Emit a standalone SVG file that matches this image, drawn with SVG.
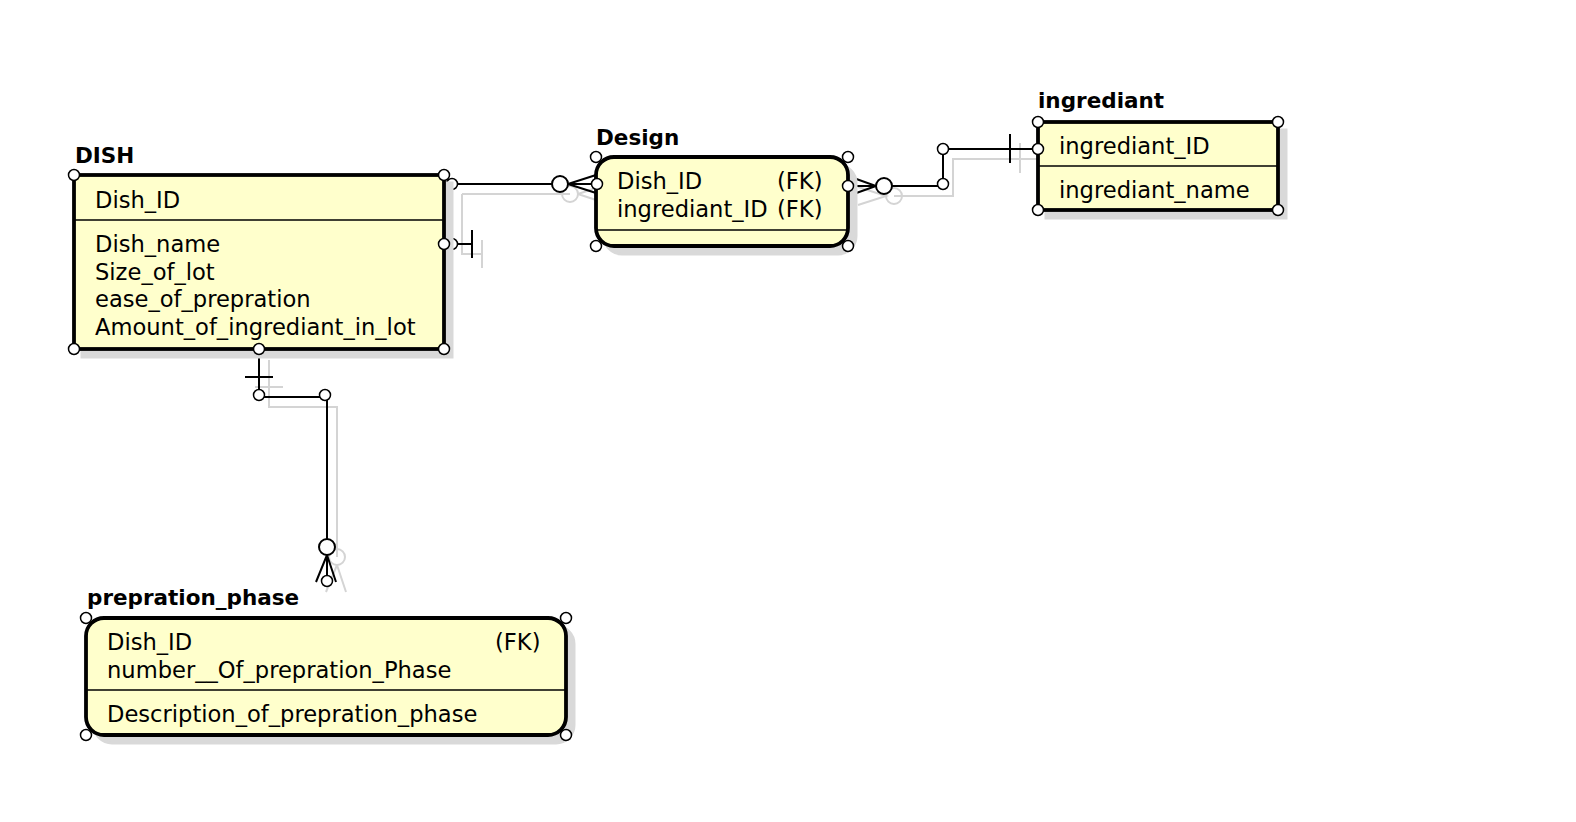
<svg xmlns="http://www.w3.org/2000/svg" width="1576" height="822" viewBox="0 0 1576 822">
<style>
.t{font-family:"DejaVu Sans",sans-serif;font-size:22.6px;fill:#000}
.h{font-family:"DejaVu Sans",sans-serif;font-size:21.5px;font-weight:bold;fill:#000}
.box{fill:#ffffcc;stroke:#000;stroke-width:3.8}
.shd{fill:#d9d9d9;stroke:#d9d9d9;stroke-width:3}
.sep{stroke:#000;stroke-width:1.5}
.hd{fill:#fff;stroke:#000;stroke-width:1.5}
.ln{fill:none;stroke:#000;stroke-width:2}
.gl{fill:none;stroke:#d4d4d4;stroke-width:2}
.big{fill:#fff;stroke:#000;stroke-width:2}
</style>
<rect width="1576" height="822" fill="#fff"/>
<g id="shadows-connectors" transform="translate(10,10)">
<path class="gl" d="M452,184 H560 M452,184 V244 H472 M472,230 V258 M568,184 L595,175 M568,184 L595,193"/>
<circle class="gl" cx="560" cy="184" r="8"/>
<path class="gl" d="M848,177 L876,186 L848,195 M884,186 H943 V149 H1038 M1010,133 V163"/>
<circle class="gl" cx="884" cy="186" r="8"/>
<path class="gl" d="M259,350 V397 H327 V547 M245,377 H273 M327,555 L316,582 M327,555 L336,582"/>
<circle class="gl" cx="327" cy="547" r="8"/>
</g>
<g id="connectors">
<path class="ln" d="M452,184 H552 M452,184 V244 H472 M472,230 V258"/>
<path class="ln" d="M568,184 L596,175 M568,184 L597,184 M568,184 L596,193"/>
<circle class="big" cx="560" cy="184" r="8"/>
<circle class="hd" cx="452" cy="184" r="5.5"/>
<circle class="hd" cx="452" cy="244" r="5.5"/>
<path class="ln" d="M848,176 L876,186 L848,196 M848,186 H876 M892,186 H943 V149 H1038 M1010,134 V163"/>
<circle class="big" cx="884" cy="186" r="8"/>
<circle class="hd" cx="943" cy="184" r="5.5"/>
<circle class="hd" cx="943" cy="149" r="5.5"/>
<path class="ln" d="M259,350 V397 H327 V539 M245,377 H273"/>
<path class="ln" d="M327,555 L316,582 M327,555 L327,582 M327,555 L336,582"/>
<circle class="big" cx="327" cy="547" r="8"/>
<circle class="hd" cx="259" cy="395" r="5.5"/>
<circle class="hd" cx="325" cy="395" r="5.5"/>
<circle class="hd" cx="327" cy="581" r="5.5"/>
</g>
<g id="DISH">
<rect class="shd" x="82" y="183" width="370" height="174"/>
<rect class="box" x="74" y="175" width="370" height="174"/>
<line class="sep" x1="74" y1="220" x2="444" y2="220"/>
<text class="h" x="75" y="163">DISH</text>
<text class="t" x="95" y="208">Dish_ID</text>
<text class="t" x="95" y="252">Dish_name</text>
<text class="t" x="95" y="280">Size_of_lot</text>
<text class="t" x="95" y="307">ease_of_prepration</text>
<text class="t" x="95" y="335">Amount_of_ingrediant_in_lot</text>
<circle class="hd" cx="74" cy="175" r="5.5"/>
<circle class="hd" cx="444" cy="175" r="5.5"/>
<circle class="hd" cx="74" cy="349" r="5.5"/>
<circle class="hd" cx="444" cy="349" r="5.5"/>
<circle class="hd" cx="444" cy="244" r="5.5"/>
<circle class="hd" cx="259" cy="349" r="5.5"/>
</g>
<g id="Design">
<rect class="shd" x="604" y="165" width="252" height="89" rx="18"/>
<rect class="box" x="596" y="157" width="252" height="89" rx="18"/>
<line class="sep" x1="596" y1="230" x2="848" y2="230"/>
<text class="h" x="596" y="145">Design</text>
<text class="t" x="617" y="189">Dish_ID</text>
<text class="t" x="777" y="189">(FK)</text>
<text class="t" x="617" y="217">ingrediant_ID</text>
<text class="t" x="777" y="217">(FK)</text>
<circle class="hd" cx="596" cy="157" r="5.5"/>
<circle class="hd" cx="848" cy="157" r="5.5"/>
<circle class="hd" cx="596" cy="246" r="5.5"/>
<circle class="hd" cx="848" cy="246" r="5.5"/>
<circle class="hd" cx="597" cy="184" r="5.5"/>
<circle class="hd" cx="848" cy="186" r="5.5"/>
</g>
<g id="ingrediant">
<rect class="shd" x="1046" y="130" width="240" height="88"/>
<rect class="box" x="1038" y="122" width="240" height="88"/>
<line class="sep" x1="1038" y1="166" x2="1278" y2="166"/>
<text class="h" x="1038" y="108">ingrediant</text>
<text class="t" x="1059" y="154">ingrediant_ID</text>
<text class="t" x="1059" y="198">ingrediant_name</text>
<circle class="hd" cx="1038" cy="122" r="5.5"/>
<circle class="hd" cx="1278" cy="122" r="5.5"/>
<circle class="hd" cx="1038" cy="210" r="5.5"/>
<circle class="hd" cx="1278" cy="210" r="5.5"/>
<circle class="hd" cx="1038" cy="149" r="5.5"/>
</g>
<g id="prepration_phase">
<rect class="shd" x="94" y="626" width="480" height="117" rx="18"/>
<rect class="box" x="86" y="618" width="480" height="117" rx="18"/>
<line class="sep" x1="86" y1="690" x2="566" y2="690"/>
<text class="h" x="87" y="605">prepration_phase</text>
<text class="t" x="107" y="650">Dish_ID</text>
<text class="t" x="495" y="650">(FK)</text>
<text class="t" x="107" y="678">number__Of_prepration_Phase</text>
<text class="t" x="107" y="722">Description_of_prepration_phase</text>
<circle class="hd" cx="86" cy="618" r="5.5"/>
<circle class="hd" cx="566" cy="618" r="5.5"/>
<circle class="hd" cx="86" cy="735" r="5.5"/>
<circle class="hd" cx="566" cy="735" r="5.5"/>
</g>
</svg>
